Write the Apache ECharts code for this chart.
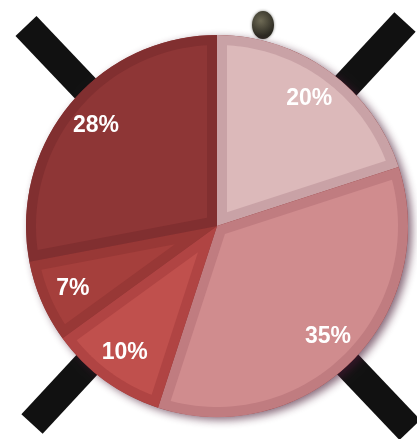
<!DOCTYPE html>
<html>
<head>
<meta charset="utf-8">
<script src="https://cdn.jsdelivr.net/npm/echarts@6/dist/echarts.min.js"></script>
<style>
html,body{margin:0;padding:0;background:#fff;}
#chart{width:417px;height:439px;}
</style>
</head>
<body>
<div id="chart"></div>
<script>
// ---- data ----
const categories = ['Slice A', 'Slice B', 'Slice C', 'Slice D', 'Slice E'];
const values = [20, 35, 10, 7, 28];
const labels = ['20%', '35%', '10%', '7%', '28%'];
const fillColors = ['#dcb9ba', '#d08c8e', '#c0504d', '#a53f3c', '#8e3636'];
const borderColors = ['#c9a2a6', '#c07c80', '#b04443', '#983836', '#812f30'];

// ---- layout ----
const CX = 217, CY = 226, RADIUS = 191, BORDER = 10;

const chart = echarts.init(document.getElementById('chart'), null, {renderer: 'canvas'});

const total = values.reduce((a, b) => a + b, 0);

function renderInset(params, api) {
  const i = params.dataIndex;
  let before = 0;
  for (let k = 0; k < i; k++) before += values[k];
  const a0 = before / total * 2 * Math.PI;
  const a1 = (before + api.value(0)) / total * 2 * Math.PI;
  const half = (a1 - a0) / 2, mid = (a0 + a1) / 2;
  const pt = (r, a) => [CX + r * Math.sin(a), CY - r * Math.cos(a)];
  const ri = RADIUS - BORDER;
  const d = Math.asin(BORDER / ri);
  const pts = [pt(BORDER / Math.sin(half), mid)];
  const n = 60;
  for (let k = 0; k <= n; k++) {
    pts.push(pt(ri, a0 + d + (a1 - a0 - 2 * d) * k / n));
  }
  return {type: 'polygon', shape: {points: pts}, style: {fill: fillColors[i]}};
}

const pieData = categories.map((c, i) => ({name: c, value: values[i], itemStyle: {color: borderColors[i]}}));
const labelData = categories.map((c, i) => ({name: c, value: values[i], label: {formatter: labels[i]}}));

chart.setOption({
  backgroundColor: '#ffffff',
  animation: false,
  graphic: [
    {type: 'line', z: 0, shape: {x1: 26, y1: 26, x2: 410, y2: 430}, style: {stroke: '#111', lineWidth: 29, lineCap: 'butt'}},
    {type: 'line', z: 0, shape: {x1: 405, y1: 22, x2: 32, y2: 424}, style: {stroke: '#111', lineWidth: 29, lineCap: 'butt'}},
    {type: 'ellipse', z: 0, shape: {cx: 263, cy: 25, rx: 11, ry: 14},
      style: {fill: new echarts.graphic.RadialGradient(0.4, 0.35, 0.7, [{offset: 0, color: '#6e6a55'}, {offset: 1, color: '#2a2820'}]), shadowBlur: 3, shadowColor: 'rgba(40,40,30,0.6)'}}
  ],
  series: [
    {
      type: 'pie', silent: true, z: 1,
      center: [CX, CY], radius: [0, RADIUS],
      label: {show: false}, labelLine: {show: false},
      itemStyle: {color: '#8e3636', shadowBlur: 9, shadowOffsetX: 4, shadowOffsetY: 3, shadowColor: 'rgba(70,25,50,0.65)'},
      data: [{name: 'base', value: 1}]
    },
    {
      type: 'pie', silent: true, z: 2,
      center: [CX, CY], radius: [0, RADIUS],
      startAngle: 90, clockwise: true,
      label: {show: false}, labelLine: {show: false},
      itemStyle: {borderWidth: 0},
      data: pieData
    },
    {
      type: 'custom', coordinateSystem: 'none', silent: true, z: 3,
      renderItem: renderInset,
      data: values.map(v => [v])
    },
    {
      type: 'pie', silent: true, z: 4,
      center: [CX, CY], radius: [116, 192],
      startAngle: 90, clockwise: true,
      itemStyle: {color: 'rgba(0,0,0,0)'},
      labelLine: {show: false},
      label: {show: true, position: 'inside', color: '#ffffff', fontFamily: 'Liberation Sans, Arial, sans-serif', fontWeight: 'bold', fontSize: 23},
      data: labelData
    }
  ]
});
</script>
</body>
</html>
